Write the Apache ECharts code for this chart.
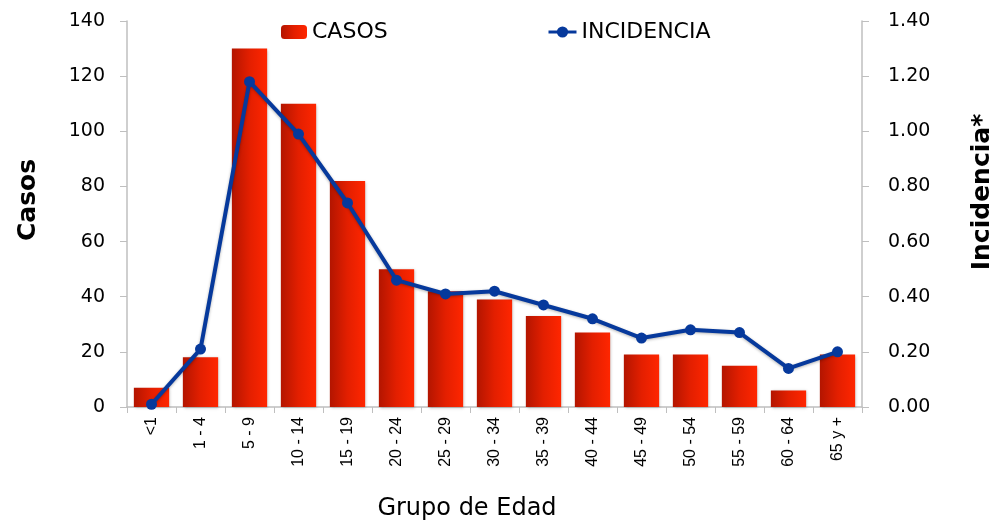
<!DOCTYPE html>
<html>
<head>
<meta charset="utf-8">
<script src="https://cdn.jsdelivr.net/npm/echarts@6/dist/echarts.min.js"></script>
<style>
  html, body { margin: 0; padding: 0; background: #fff; }
  #main { width: 994px; height: 522px; }
</style>
</head>
<body>
<div id="main"></div>
<script>
// grupos de edad
var grupos = ['<1', '1 - 4', '5 - 9', '10 - 14', '15 - 19', '20 - 24', '25 - 29', '30 - 34',
              '35 - 39', '40 - 44', '45 - 49', '50 - 54', '55 - 59', '60 - 64', '65 y +'];
var casos = [7, 18, 130, 110, 82, 50, 42, 39, 33, 27, 19, 19, 15, 6, 19];
var incidencia = [0.01, 0.21, 1.18, 0.99, 0.74, 0.46, 0.41, 0.42, 0.37, 0.32, 0.25, 0.28, 0.27, 0.14, 0.20];

var fuente = 'DejaVu Sans';
var axisGris = '#bfbfbf';
var azul = '#06399c';

var myChart = echarts.init(document.getElementById('main'));

var barColor = new echarts.graphic.LinearGradient(0, 0, 1, 0, [
  { offset: 0, color: '#b31500' },
  { offset: 0.5, color: '#e31f00' },
  { offset: 1, color: '#ff2600' }
]);

var option = {
  animation: false,
  backgroundColor: '#fff',
  legend: [
    {
      data: ['CASOS'],
      left: 276, top: 16,
      itemWidth: 26, itemHeight: 14,
      textStyle: { fontFamily: fuente, fontSize: 22, color: '#000' }
    },
    {
      data: ['INCIDENCIA'],
      left: 542, top: 16,
      itemWidth: 28, itemHeight: 14,
      lineStyle: { width: 3 },
      textStyle: { fontFamily: fuente, fontSize: 22, color: '#000' }
    }
  ],
  grid: { left: 127, right: 132, top: 21, bottom: 115, outerBoundsMode: 'none' },
  xAxis: {
    type: 'category',
    data: grupos,
    name: 'Grupo de Edad',
    nameLocation: 'middle',
    nameGap: 90,
    nameTextStyle: { fontFamily: fuente, fontSize: 24, color: '#000', padding: [0, 55, 0, 0] },
    axisLine: { lineStyle: { color: axisGris, width: 1.5 } },
    axisTick: { show: true, length: 6, lineStyle: { color: axisGris } },
    axisLabel: {
      rotate: 90, margin: 10,
      fontFamily: 'Liberation Sans Narrow, Liberation Sans', fontSize: 16, color: '#000'
    }
  },
  yAxis: [
    {
      type: 'value', min: 0, max: 140, interval: 20,
      name: 'Casos',
      nameLocation: 'middle',
      nameGap: 86,
      nameRotate: 90,
      nameTextStyle: { fontFamily: fuente, fontSize: 25, fontWeight: 'bold', color: '#000', padding: [0, 0, 0, 28] },
      axisLine: { show: true, lineStyle: { color: axisGris, width: 1.5 } },
      axisTick: { show: true, length: 7, lineStyle: { color: axisGris } },
      splitLine: { show: false },
      axisLabel: { margin: 22, fontFamily: fuente, fontSize: 19, color: '#000' }
    },
    {
      type: 'value', min: 0, max: 1.4, interval: 0.2,
      name: 'Incidencia*',
      nameLocation: 'middle',
      nameGap: 108,
      nameRotate: 90,
      nameTextStyle: { fontFamily: fuente, fontSize: 25, fontWeight: 'bold', color: '#000', padding: [0, 0, 0, 44] },
      axisLine: { show: true, lineStyle: { color: axisGris, width: 1.5 } },
      axisTick: { show: true, length: 7, lineStyle: { color: axisGris } },
      splitLine: { show: false },
      axisLabel: {
        margin: 26, fontFamily: fuente, fontSize: 19, color: '#000',
        formatter: function (v) { return v.toFixed(2); }
      }
    }
  ],
  series: [
    {
      name: 'CASOS',
      type: 'bar',
      data: casos,
      barCategoryGap: '28%',
      itemStyle: {
        color: barColor,
        shadowColor: 'rgba(0,0,0,0.25)', shadowBlur: 3, shadowOffsetX: 1, shadowOffsetY: 1
      }
    },
    {
      name: 'INCIDENCIA',
      type: 'line',
      yAxisIndex: 1,
      data: incidencia,
      symbol: 'circle',
      symbolSize: 11,
      lineStyle: { color: azul, width: 4, shadowColor: 'rgba(0,0,0,0.3)', shadowBlur: 3, shadowOffsetY: 1 },
      itemStyle: { color: azul },
      z: 5
    }
  ]
};
myChart.setOption(option);
</script>
</body>
</html>
